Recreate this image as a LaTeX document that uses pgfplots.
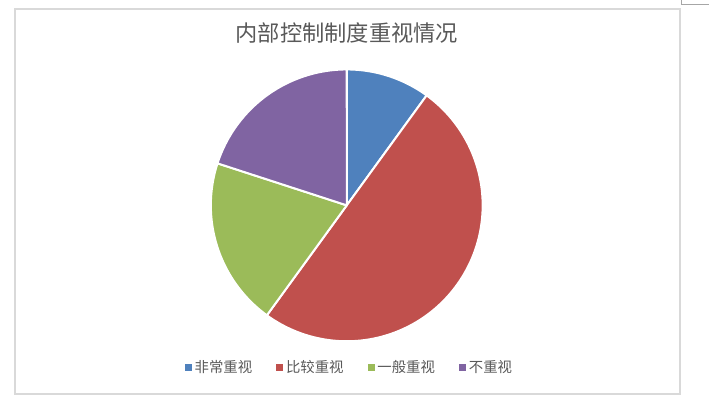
\documentclass[border=0pt]{standalone}
\usepackage{pgfplots}
\pgfplotsset{compat=1.18}
\usepackage{pgfplotstable}
\usepackage{fontspec}
\setmainfont{Noto Sans CJK SC}
\definecolor{cA}{HTML}{4F81BD}
\definecolor{cB}{HTML}{C0504D}
\definecolor{cC}{HTML}{9BBB59}
\definecolor{cD}{HTML}{8064A2}
\definecolor{txt}{HTML}{595959}
\definecolor{frame}{HTML}{D9D9D9}
\pgfplotstableread{
label value
非常重视 10
比较重视 50
一般重视 20
不重视 20
}\piedata
\begin{document}
\begin{tikzpicture}
\pgfplotstablegetelem{0}{value}\of\piedata \let\va\pgfplotsretval
\pgfplotstablegetelem{1}{value}\of\piedata \let\vb\pgfplotsretval
\pgfplotstablegetelem{2}{value}\of\piedata \let\vc\pgfplotsretval
\pgfplotstablegetelem{3}{value}\of\piedata \let\vd\pgfplotsretval
\pgfmathsetmacro\tot{\va+\vb+\vc+\vd}
\pgfmathsetmacro\aA{90}
\pgfmathsetmacro\aB{\aA-(\va/\tot)*360}
\pgfmathsetmacro\aC{\aB-(\vb/\tot)*360}
\pgfmathsetmacro\aD{\aC-(\vc/\tot)*360}
\pgfmathsetmacro\aE{\aD-(\vd/\tot)*360}
\path (0,0) rectangle (531.75pt,302.25pt);
\draw[frame, line width=1.5pt] (11.25pt,6.75pt) rectangle (510pt,295.5pt);
\draw[black!35, line width=0.75pt] (511.5pt,302.25pt) -- (511.5pt,299.25pt) -- (531.75pt,299.25pt);
\node[text=txt, font=\fontsize{16.7pt}{19pt}\selectfont] at (260.25pt,277.5pt) {内部控制制度重视情况};
\begin{axis}[
  at={(260.25pt,148.5pt)}, anchor=origin,
  scale only axis, width=204pt, height=204pt,
  xmin=-1, xmax=1, ymin=-1, ymax=1,
  hide axis, clip=false,
  legend columns=4,
  legend style={draw=none, fill=none, at={(0.511,-0.096)}, anchor=center,
    font=\fontsize{10.8pt}{12pt}\selectfont, text=txt,
    /tikz/every even column/.append style={column sep=16pt}},
  legend image code/.code={\fill[#1, draw=none] (0pt,-2.7pt) rectangle (5.4pt,2.7pt);},
]
\addplot[fill=cA, draw=white, line width=1.5pt, line join=round, domain=\aB:\aA, samples=40, variable=\t] ({cos(t)},{sin(t)}) -- (0,0) -- cycle;
\addplot[fill=cB, draw=white, line width=1.5pt, line join=round, domain=\aC:\aB, samples=100, variable=\t] ({cos(t)},{sin(t)}) -- (0,0) -- cycle;
\addplot[fill=cC, draw=white, line width=1.5pt, line join=round, domain=\aD:\aC, samples=60, variable=\t] ({cos(t)},{sin(t)}) -- (0,0) -- cycle;
\addplot[fill=cD, draw=white, line width=1.5pt, line join=round, domain=\aE:\aD, samples=60, variable=\t] ({cos(t)},{sin(t)}) -- (0,0) -- cycle;
\legend{非常重视,比较重视,一般重视,不重视}
\end{axis}
\end{tikzpicture}
\end{document}
